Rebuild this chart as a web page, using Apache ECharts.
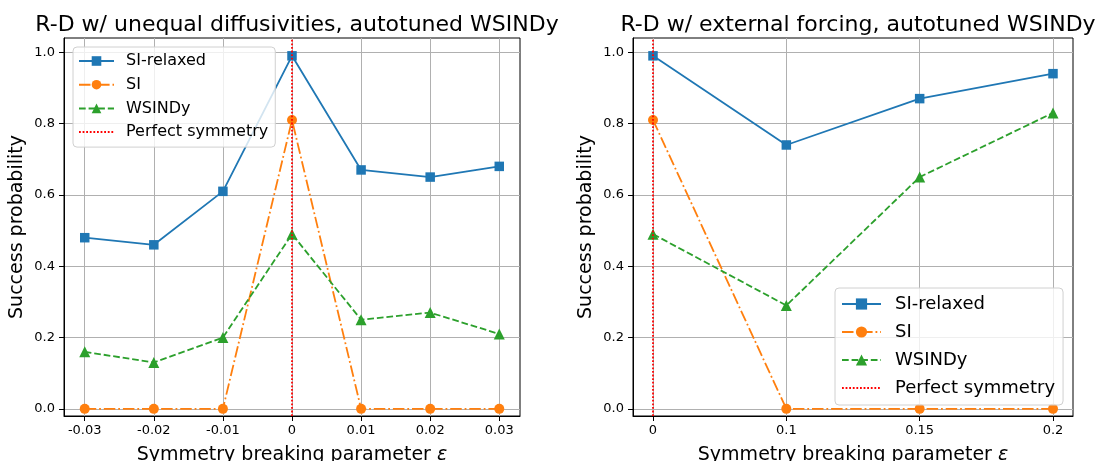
<!DOCTYPE html>
<html><head><meta charset="utf-8">
<script src="https://cdn.jsdelivr.net/npm/echarts@6/dist/echarts.min.js"></script>
<style>html,body{margin:0;padding:0;background:#fff}#c{width:1099px;height:461px}</style>
</head><body><div id="c"></div>
<script>
// ---- data ----
const leftTitle = 'R-D w/ unequal diffusivities, autotuned WSINDy';
const rightTitle = 'R-D w/ external forcing, autotuned WSINDy';
const leftXLabels = ['-0.03', '-0.02', '-0.01', '0', '0.01', '0.02', '0.03'];
const rightXLabels = ['0', '0.1', '0.15', '0.2'];
const yTicks = [0, 0.2, 0.4, 0.6, 0.8, 1.0];
const leftSIRelaxed = [0.48, 0.46, 0.61, 0.99, 0.67, 0.65, 0.68];
const leftSI = [0, 0, 0, 0.81, 0, 0, 0];
const leftWSINDy = [0.16, 0.13, 0.20, 0.49, 0.25, 0.27, 0.21];
const rightSIRelaxed = [0.99, 0.74, 0.87, 0.94];
const rightSI = [0.81, 0, 0, 0];
const rightWSINDy = [0.49, 0.29, 0.65, 0.83];
const leftSymmetryIndex = 3;
const rightSymmetryIndex = 0;
const seriesNames = ['SI-relaxed', 'SI', 'WSINDy', 'Perfect symmetry'];

// ---- styles ----
const FONT = 'DejaVu Sans';
const C = ['#1f77b4', '#ff7f0e', '#2ca02c', '#ff0000'];
const yMin = -0.02, yMax = 1.04;
const LW = 1.8;
const idx = arr => arr.map((v, i) => [i, v]);

function xAxis(gridIndex, labels) {
  const n = labels.length - 1;
  const ticks = labels.map((_, i) => i);
  return {
    type: 'value', gridIndex, min: -0.05 * n, max: n * 1.05,
    name: 'Symmetry breaking parameter {e|ε}', nameLocation: 'middle', nameGap: 30,
    nameTextStyle: { fontFamily: FONT, fontSize: 19, color: '#000',
      rich: { e: { fontFamily: FONT, fontSize: 19, fontStyle: 'italic', color: '#000' } } },
    axisLine: { show: true, lineStyle: { color: '#000', width: 1 }, onZero: false },
    axisTick: { show: true, length: 5, lineStyle: { color: '#000' }, customValues: ticks },
    axisLabel: { fontFamily: FONT, fontSize: 13, color: '#000', margin: 8, customValues: ticks,
      formatter: v => labels[Math.round(v)] },
    splitLine: { show: false }
  };
}
function yAxis(gridIndex) {
  return {
    type: 'value', gridIndex, min: yMin, max: yMax,
    name: 'Success probability', nameLocation: 'middle', nameGap: 37,
    nameTextStyle: { fontFamily: FONT, fontSize: 19, color: '#000' },
    axisLine: { show: true, lineStyle: { color: '#000', width: 1 }, onZero: false },
    axisTick: { show: true, length: 5, lineStyle: { color: '#000' }, customValues: yTicks },
    axisLabel: { fontFamily: FONT, fontSize: 13, color: '#000', margin: 9, customValues: yTicks,
      formatter: v => v.toFixed(1) },
    splitLine: { show: false }
  };
}
function gridLinesSeries(xi, labels) {
  const n = labels.length - 1;
  const data = [];
  labels.forEach((_, i) => data.push([{ coord: [i, yMin] }, { coord: [i, yMax] }]));
  yTicks.forEach(t => data.push([{ coord: [-0.05 * n, t] }, { coord: [n * 1.05, t] }]));
  return {
    type: 'line', xAxisIndex: xi, yAxisIndex: xi, data: [], silent: true, z: 0,
    markLine: { silent: true, symbol: 'none', label: { show: false }, z: 0,
      lineStyle: { color: '#b0b0b0', width: 1, type: 'solid' }, emphasis: { disabled: true },
      animation: false, data }
  };
}
function dataSeries(xi, rel, si, ws, symIdx) {
  return [
    { name: seriesNames[0], type: 'line', xAxisIndex: xi, yAxisIndex: xi, data: idx(rel),
      symbol: 'rect', symbolSize: 9.5, color: C[0], itemStyle: { color: C[0] },
      lineStyle: { color: C[0], width: LW, type: 'solid' }, z: 3 },
    { name: seriesNames[1], type: 'line', xAxisIndex: xi, yAxisIndex: xi, data: idx(si),
      symbol: 'circle', symbolSize: 10, color: C[1], itemStyle: { color: C[1] },
      lineStyle: { color: C[1], width: LW, type: [11.5, 2.9, 1.8, 2.9] }, z: 3 },
    { name: seriesNames[2], type: 'line', xAxisIndex: xi, yAxisIndex: xi, data: idx(ws),
      symbol: 'triangle', symbolSize: 11, color: C[2], itemStyle: { color: C[2] },
      lineStyle: { color: C[2], width: LW, type: [6.7, 2.9] }, z: 3 },
    { name: seriesNames[3], type: 'line', xAxisIndex: xi, yAxisIndex: xi,
      data: [[symIdx, yMin], [symIdx, yMax]], symbol: 'none', color: C[3],
      lineStyle: { color: C[3], width: LW, type: [1.8, 1.8] }, z: 5 }
  ];
}
function legend(pos, fontSize, gap, iw, ih, pad, textPad) {
  return Object.assign({
    orient: 'vertical',
    data: seriesNames.map((n, i) => i === 3
      ? { name: n, itemStyle: { color: 'rgba(0,0,0,0)', borderWidth: 0, opacity: 0 } }
      : { name: n }),
    itemWidth: iw, itemHeight: ih, itemGap: gap,
    padding: pad, backgroundColor: 'rgba(255,255,255,0.8)', borderColor: '#d0d0d0',
    borderWidth: 1, borderRadius: 4,
    textStyle: { fontFamily: FONT, fontSize, color: '#000', padding: [0, 0, 0, textPad] }
  }, pos);
}

const chart = echarts.init(document.getElementById('c'), null, { renderer: 'canvas' });
chart.setOption({
  animation: false,
  backgroundColor: '#fff',
  title: [
    { text: leftTitle, left: 292, top: 9, textAlign: 'center',
      textStyle: { fontFamily: FONT, fontSize: 22, fontWeight: 'normal', color: '#000' } },
    { text: rightTitle, left: 853, top: 9, textAlign: 'center',
      textStyle: { fontFamily: FONT, fontSize: 22, fontWeight: 'normal', color: '#000' } }
  ],
  legend: [
    legend({ left: 73, top: 47 }, 16, 7.7, 35, 12, [6, 7, 7, 5], 7),
    legend({ left: 835, top: 288 }, 18, 10, 39, 14, [7, 8, 8, 6], 9)
  ],
  grid: [
    { left: 64, top: 38, width: 456, height: 378, show: true, borderColor: '#000', borderWidth: 1,
      containLabel: false, outerBoundsMode: 'none' },
    { left: 633, top: 38, width: 440, height: 378, show: true, borderColor: '#000', borderWidth: 1,
      containLabel: false, outerBoundsMode: 'none' }
  ],
  xAxis: [xAxis(0, leftXLabels), xAxis(1, rightXLabels)],
  yAxis: [yAxis(0), yAxis(1)],
  series: [
    gridLinesSeries(0, leftXLabels),
    gridLinesSeries(1, rightXLabels),
    ...dataSeries(0, leftSIRelaxed, leftSI, leftWSINDy, leftSymmetryIndex),
    ...dataSeries(1, rightSIRelaxed, rightSI, rightWSINDy, rightSymmetryIndex)
  ]
});
</script></body></html>
